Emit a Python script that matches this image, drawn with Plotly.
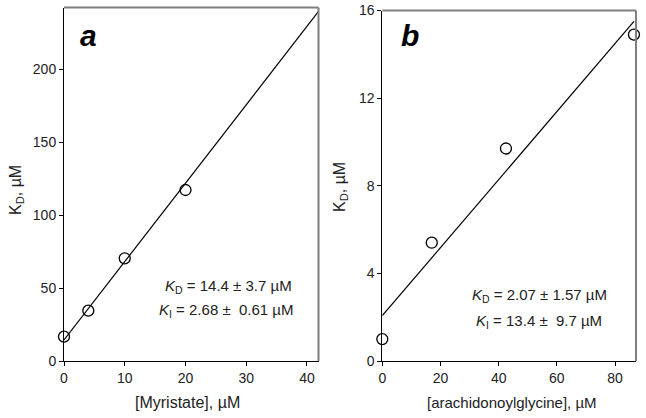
import plotly.graph_objects as go

# Panel a data
myr_x = [0, 4, 10, 20, 42]
myr_kd = [16.7, 34.5, 70.4, 117.2, 242]
myr_fit_x = [0, 42]
myr_fit_y = [14.4, 240.1]

# Panel b data
ara_x = [0, 17, 42.5, 86.5]
ara_kd = [1.0, 5.4, 9.7, 14.9]
ara_fit_x = [0, 86.5]
ara_fit_y = [2.07, 15.5]

a_xticks = [0, 10, 20, 30, 40]
a_yticks = [0, 50, 100, 150, 200]
b_xticks = [0, 20, 40, 60, 80]
b_yticks = [0, 4, 8, 12, 16]

FONT = "Liberation Sans, Arial, sans-serif"
W, H = 646, 418

fig = go.Figure()

marker = dict(symbol="circle-open", size=11, color="black", line=dict(width=1.3, color="black"))

fig.add_trace(go.Scatter(x=myr_fit_x, y=myr_fit_y, mode="lines",
                         line=dict(color="black", width=1.2), xaxis="x", yaxis="y",
                         showlegend=False, cliponaxis=False))
fig.add_trace(go.Scatter(x=myr_x, y=myr_kd, mode="markers", marker=marker,
                         xaxis="x", yaxis="y", showlegend=False, cliponaxis=False))
fig.add_trace(go.Scatter(x=ara_fit_x, y=ara_fit_y, mode="lines",
                         line=dict(color="black", width=1.2), xaxis="x2", yaxis="y2",
                         showlegend=False, cliponaxis=False))
fig.add_trace(go.Scatter(x=ara_x, y=ara_kd, mode="markers", marker=marker,
                         xaxis="x2", yaxis="y2", showlegend=False, cliponaxis=False))

def px_x(p):
    return p / W

def px_y(p):
    return (H - p) / H

axis_common = dict(showgrid=False, zeroline=False, showline=True, linecolor="black",
                   linewidth=1, ticks="outside", ticklen=4, tickcolor="black",
                   tickfont=dict(family=FONT, size=14, color="#222"),
                   mirror=False, automargin=False)

fig.update_layout(
    width=W, height=H,
    margin=dict(l=0, r=0, t=0, b=0),
    plot_bgcolor="white", paper_bgcolor="white",
    xaxis=dict(domain=[px_x(64), px_x(318.5)], range=[0, 41.9], anchor="y",
               tickvals=a_xticks, **axis_common),
    yaxis=dict(domain=[px_y(361), px_y(7.5)], range=[0, 242.3], anchor="x",
               tickvals=a_yticks, **axis_common),
    xaxis2=dict(domain=[px_x(382.3), px_x(636)], range=[0, 87.2], anchor="y2",
                tickvals=b_xticks, **axis_common),
    yaxis2=dict(domain=[px_y(361), px_y(10.5)], range=[0, 16], anchor="x2",
                tickvals=b_yticks, **axis_common),
)

# gray top/right box borders
for xr, yr in [("x domain", "y domain"), ("x2 domain", "y2 domain")]:
    fig.add_shape(type="line", xref=xr, yref=yr, x0=0, x1=1, y0=1, y1=1,
                  line=dict(color="#7f7f7f", width=2))
    fig.add_shape(type="line", xref=xr, yref=yr, x0=1, x1=1, y0=0, y1=1,
                  line=dict(color="#7f7f7f", width=2))

txt = dict(family=FONT, size=15, color="#222")
ttl = dict(family=FONT, size=16, color="#222")
ann = []
# axis titles
ann.append(dict(text="[Myristate], µM", x=px_x(187), y=px_y(402), xref="paper", yref="paper",
                showarrow=False, font=ttl, xanchor="center", yanchor="middle"))
ann.append(dict(text="[arachidonoylglycine], µM", x=px_x(512), y=px_y(402), xref="paper", yref="paper",
                showarrow=False, font=dict(family=FONT, size=15, color="#222"),
                xanchor="center", yanchor="middle"))
ann.append(dict(text="K<sub>D</sub>, µM", x=px_x(16), y=px_y(190), xref="paper", yref="paper",
                showarrow=False, font=ttl, textangle=-90, xanchor="center", yanchor="middle"))
ann.append(dict(text="K<sub>D</sub>, µM", x=px_x(341), y=px_y(187), xref="paper", yref="paper",
                showarrow=False, font=ttl, textangle=-90, xanchor="center", yanchor="middle"))
# panel letters
ann.append(dict(text="<b><i>a</i></b>", x=px_x(88), y=px_y(35), xref="paper", yref="paper",
                showarrow=False, font=dict(family=FONT, size=30, color="black"),
                xanchor="center", yanchor="middle"))
ann.append(dict(text="<b><i>b</i></b>", x=px_x(410), y=px_y(35), xref="paper", yref="paper",
                showarrow=False, font=dict(family=FONT, size=30, color="black"),
                xanchor="center", yanchor="middle"))
# fit parameters
ann.append(dict(text="<i>K</i><sub>D</sub> = 14.4 ± 3.7 µM", x=px_x(294), y=px_y(286),
                xref="paper", yref="paper", showarrow=False, font=txt,
                xanchor="right", yanchor="middle"))
ann.append(dict(text="<i>K</i><sub>I</sub> = 2.68 ±  0.61 µM", x=px_x(295), y=px_y(310),
                xref="paper", yref="paper", showarrow=False, font=txt,
                xanchor="right", yanchor="middle"))
ann.append(dict(text="<i>K</i><sub>D</sub> = 2.07 ± 1.57 µM", x=px_x(609), y=px_y(296),
                xref="paper", yref="paper", showarrow=False, font=txt,
                xanchor="right", yanchor="middle"))
ann.append(dict(text="<i>K</i><sub>I</sub> = 13.4 ±  9.7 µM", x=px_x(604), y=px_y(321),
                xref="paper", yref="paper", showarrow=False, font=txt,
                xanchor="right", yanchor="middle"))
fig.update_layout(annotations=ann)

fig.write_html("out.html", config={"displayModeBar": False},
               post_script="document.body.style.margin='0';document.body.style.padding='0';")
